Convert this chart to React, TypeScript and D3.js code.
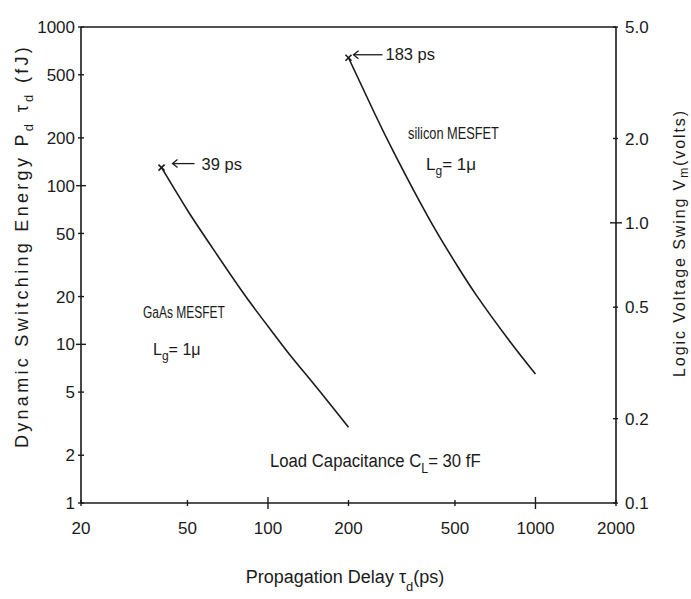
import React from "react";
import * as d3 from "d3";

// ---- data ----
const gaasDelay = [40, 50, 60, 80, 100, 120, 150, 200];
const gaasEnergy = [130, 70, 44, 21.6, 13, 8.7, 5.5, 3.0];
const siDelay = [200, 250, 300, 400, 500, 600, 800, 1000];
const siEnergy = [640, 287, 154, 62, 33, 20.5, 10.5, 6.5];

const xTicks = [20, 50, 100, 200, 500, 1000, 2000];
const yTicks = [1, 2, 5, 10, 20, 50, 100, 200, 500, 1000];
const vTicks = [0.1, 0.2, 0.5, 1.0, 2.0, 5.0];
const vTickLabels = ["0.1", "0.2", "0.5", "1.0", "2.0", "5.0"];
const xMajor = [100, 1000];
const yMajor = [10, 100];
const vMajor = [1.0];

const gaasDelayLabel = "39 ps";
const siDelayLabel = "183 ps";

const W = 691;
const H = 599;
const FONT = "'Liberation Sans', Arial, sans-serif";
const INK = "#1a1a1a";

const x = d3.scaleLog().domain([20, 2000]).range([81, 616]);
const y = d3.scaleLog().domain([1, 1000]).range([503, 27]);
const v = d3.scaleLog().domain([0.1, 5]).range([503, 27]);

const line = d3
  .line<[number, number]>()
  .x((d) => x(d[0]))
  .y((d) => y(d[1]))
  .curve(d3.curveNatural);

function Txt(props: {
  x: number;
  y: number;
  sx?: number;
  size: number;
  anchor?: string;
  rotate?: number;
  spacing?: number;
  children: React.ReactNode;
}) {
  const { sx = 1, rotate = 0 } = props;
  return (
    <g transform={`translate(${props.x},${props.y}) rotate(${rotate}) scale(${sx},1)`}>
      <text
        textAnchor={props.anchor || "start"}
        fontSize={props.size}
        fontFamily={FONT}
        fill={INK}
        letterSpacing={props.spacing || 0}
      >
        {props.children}
      </text>
    </g>
  );
}

function Marker({ px, py }: { px: number; py: number }) {
  const s = 3;
  return (
    <g stroke={INK} strokeWidth={1.6}>
      <line x1={px - s} y1={py - s} x2={px + s} y2={py + s} />
      <line x1={px - s} y1={py + s} x2={px + s} y2={py - s} />
    </g>
  );
}

function Arrow({ x1, x2, yy }: { x1: number; x2: number; yy: number }) {
  return (
    <g stroke={INK} strokeWidth={1.3} fill="none">
      <line x1={x1} y1={yy} x2={x2} y2={yy} />
      <path d={`M${x1 + 5},${yy - 4} L${x1},${yy} L${x1 + 5},${yy + 4}`} />
    </g>
  );
}

export default function App() {
  const gaas = gaasDelay.map((d, i) => [d, gaasEnergy[i]] as [number, number]);
  const si = siDelay.map((d, i) => [d, siEnergy[i]] as [number, number]);
  const [x0, x1] = x.range();
  const [yb, yt] = y.range();

  const gx = x(gaasDelay[0]);
  const gy = y(gaasEnergy[0]);
  const sxp = x(siDelay[0]);
  const syp = y(siEnergy[0]);

  return (
    <svg
      width={W}
      height={H}
      style={{ position: "absolute", left: 0, top: 0, background: "#fff" }}
    >
      <rect x={0} y={0} width={W} height={H} fill="#fff" />
      {/* frame */}
      <g stroke={INK} strokeWidth={1.6} fill="none">
        <line x1={x0} y1={yt} x2={x1} y2={yt} />
        <line x1={x0} y1={yb} x2={x1} y2={yb} />
        <line x1={x0} y1={yt} x2={x0} y2={yb} />
        <line x1={x1} y1={yt} x2={x1} y2={yb} />
      </g>
      {/* left ticks */}
      {yTicks.map((t) => {
        const L = yMajor.includes(t) ? 5 : 3;
        return (
          <g key={"y" + t}>
            <line x1={x0 - L} x2={x0 + L} y1={y(t)} y2={y(t)} stroke={INK} strokeWidth={1.4} />
            <text
              x={75}
              y={y(t)}
              dy="0.36em"
              textAnchor="end"
              fontSize={17}
              fontFamily={FONT}
              fill={INK}
            >
              {t}
            </text>
          </g>
        );
      })}
      {/* bottom ticks */}
      {xTicks.map((t) => {
        const L = xMajor.includes(t) ? 6 : 3;
        return (
          <g key={"x" + t}>
            <line x1={x(t)} x2={x(t)} y1={yb - L} y2={yb + L} stroke={INK} strokeWidth={1.4} />
            <text
              x={x(t)}
              y={534}
              textAnchor="middle"
              fontSize={17}
              fontFamily={FONT}
              fill={INK}
            >
              {t}
            </text>
          </g>
        );
      })}
      {/* right ticks */}
      {vTicks.map((t, i) => {
        const major = vMajor.includes(t);
        return (
          <g key={"v" + t}>
            <line
              x1={x1 - (major ? 6 : 3)}
              x2={x1 + (major ? 6 : 2)}
              y1={v(t)}
              y2={v(t)}
              stroke={INK}
              strokeWidth={1.4}
            />
            <text
              x={625}
              y={v(t)}
              dy="0.36em"
              textAnchor="start"
              fontSize={17}
              fontFamily={FONT}
              fill={INK}
            >
              {vTickLabels[i]}
            </text>
          </g>
        );
      })}

      {/* curves */}
      <path d={line(gaas) || ""} fill="none" stroke={INK} strokeWidth={1.6} />
      <path d={line(si) || ""} fill="none" stroke={INK} strokeWidth={1.6} />

      {/* start markers and delay annotations */}
      <Marker px={gx} py={gy} />
      <Arrow x1={gx + 11} x2={gx + 33} yy={gy - 4} />
      <Txt x={gx + 40} y={gy + 2} size={16.5}>{gaasDelayLabel}</Txt>
      <Marker px={sxp} py={syp} />
      <Arrow x1={sxp + 5} x2={sxp + 34} yy={syp - 3} />
      <Txt x={sxp + 37} y={syp + 2} size={16.5}>{siDelayLabel}</Txt>

      {/* device labels */}
      <Txt x={408} y={139} size={16} sx={0.8}>silicon MESFET</Txt>
      <Txt x={426} y={170} size={17}>
        L<tspan fontSize={12} dy={5}>g</tspan>
        <tspan dy={-5}>= 1μ</tspan>
      </Txt>
      <Txt x={143} y={318} size={16} sx={0.75}>GaAs MESFET</Txt>
      <Txt x={153} y={355} size={16}>
        L<tspan fontSize={12} dy={5}>g</tspan>
        <tspan dy={-5}>= 1μ</tspan>
      </Txt>
      <Txt x={270} y={467} size={19} sx={0.88}>
        Load Capacitance C<tspan fontSize={14} dy={6}>L</tspan>
        <tspan dy={-6}>= 30 fF</tspan>
      </Txt>

      {/* axis titles */}
      <Txt x={345} y={583} size={18} anchor="middle">
        Propagation Delay τ<tspan fontSize={13} dy={8}>d</tspan>
        <tspan dy={-8}>(ps)</tspan>
      </Txt>
      <Txt x={28} y={246} size={18} anchor="middle" rotate={-90} spacing={3.3}>
        Dynamic Switching Energy P<tspan fontSize={13} dy={5}>d</tspan>
        <tspan dy={-5}> τ</tspan>
        <tspan fontSize={13} dy={5}>d</tspan>
        <tspan dy={-5}> (fJ)</tspan>
      </Txt>
      <Txt x={685} y={243} size={16} anchor="middle" rotate={-90} spacing={1.9}>
        Logic Voltage Swing V<tspan fontSize={12} dy={3}>m</tspan>
        <tspan dy={-3}>(volts)</tspan>
      </Txt>
    </svg>
  );
}
